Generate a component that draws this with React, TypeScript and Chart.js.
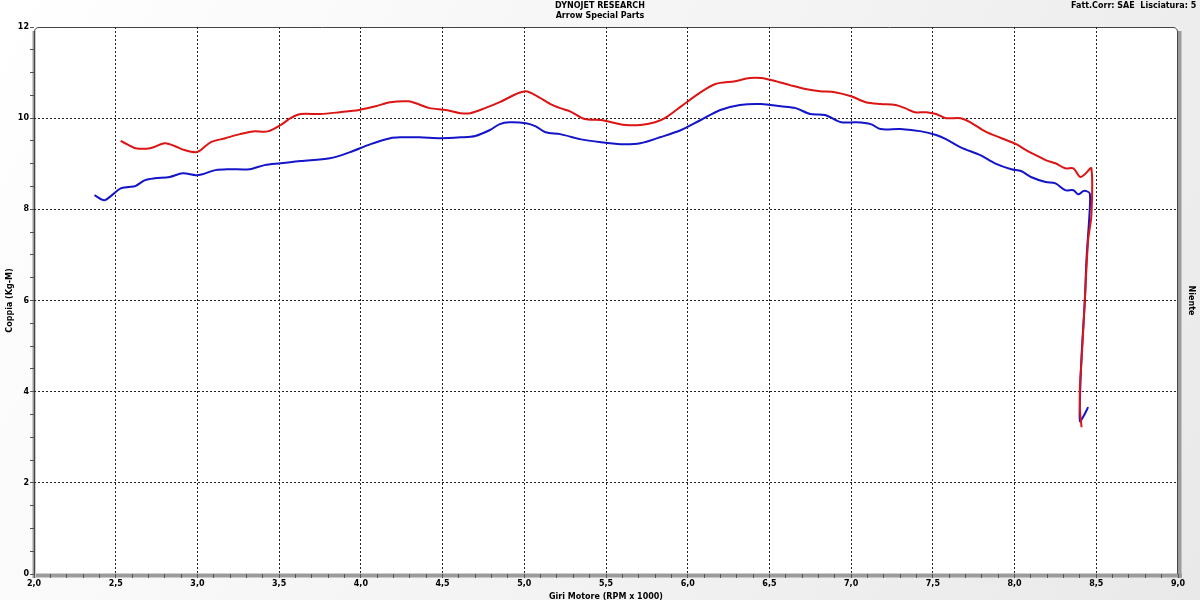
import React, { useEffect, useRef } from "react";
import { Chart, registerables } from "chart.js";

Chart.register(...registerables);

const titleLine1 = "DYNOJET RESEARCH";
const titleLine2 = "Arrow Special Parts";
const cornerText = "Fatt.Corr: SAE  Lisciatura: 5";
const xTitle = "Giri Motore (RPM x 1000)";
const yTitle = "Coppia (Kg-M)";
const y2Title = "Niente";

const xMin = 2;
const xMax = 9;
const yMin = 0;
const yMax = 12;

const blueRpm = [
  2.37, 2.43, 2.47, 2.53, 2.58, 2.62, 2.68, 2.74, 2.83, 2.91,
  2.99, 3.03, 3.11, 3.19, 3.32, 3.41, 3.51, 3.63, 3.81, 3.93,
  4.06, 4.18, 4.24, 4.36, 4.49, 4.61, 4.70, 4.79, 4.85, 4.91,
  5.01, 5.07, 5.13, 5.22, 5.34, 5.47, 5.59, 5.71, 5.83, 5.96,
  6.08, 6.20, 6.32, 6.45, 6.57, 6.66, 6.75, 6.84, 6.94, 7.03,
  7.12, 7.18, 7.30, 7.43, 7.52, 7.58, 7.67, 7.79, 7.88, 7.98,
  8.04, 8.10, 8.19, 8.25, 8.31, 8.36, 8.39, 8.42, 8.44, 8.46,
  8.46, 8.44, 8.43, 8.41, 8.40, 8.40, 8.42, 8.45,
];
const blueTorque = [
  8.31, 8.20, 8.29, 8.46, 8.49, 8.51, 8.64, 8.68, 8.71, 8.79,
  8.75, 8.77, 8.86, 8.88, 8.88, 8.97, 9.01, 9.06, 9.12, 9.25,
  9.43, 9.56, 9.58, 9.58, 9.56, 9.58, 9.61, 9.74, 9.87, 9.91,
  9.89, 9.82, 9.69, 9.65, 9.54, 9.47, 9.43, 9.45, 9.58, 9.74,
  9.96, 10.18, 10.29, 10.31, 10.26, 10.22, 10.09, 10.07, 9.91, 9.91,
  9.87, 9.76, 9.76, 9.71, 9.63, 9.54, 9.36, 9.19, 9.01, 8.88,
  8.84, 8.71, 8.60, 8.57, 8.42, 8.42, 8.33, 8.40, 8.40, 8.35,
  8.00, 6.90, 6.00, 4.80, 3.80, 3.35, 3.45, 3.66,
];

const redRpm = [
  2.53, 2.58, 2.62, 2.71, 2.80, 2.86, 2.92, 2.99, 3.02, 3.08,
  3.17, 3.26, 3.34, 3.43, 3.51, 3.57, 3.63, 3.75, 3.87, 3.99,
  4.09, 4.18, 4.29, 4.35, 4.42, 4.52, 4.61, 4.67, 4.76, 4.85,
  4.95, 5.01, 5.07, 5.16, 5.22, 5.28, 5.37, 5.47, 5.56, 5.62,
  5.71, 5.80, 5.86, 5.96, 6.08, 6.17, 6.29, 6.38, 6.45, 6.54,
  6.63, 6.72, 6.81, 6.90, 7.00, 7.09, 7.18, 7.27, 7.33, 7.39,
  7.46, 7.52, 7.58, 7.67, 7.73, 7.82, 7.92, 8.01, 8.07, 8.13,
  8.19, 8.25, 8.31, 8.36, 8.40, 8.43, 8.47, 8.47, 8.45, 8.43,
  8.41, 8.40, 8.40, 8.41,
];
const redTorque = [
  9.50, 9.41, 9.34, 9.34, 9.45, 9.39, 9.30, 9.25, 9.30, 9.47,
  9.56, 9.65, 9.71, 9.71, 9.85, 10.00, 10.09, 10.09, 10.13, 10.18,
  10.26, 10.35, 10.37, 10.31, 10.22, 10.18, 10.11, 10.11, 10.22, 10.35,
  10.53, 10.59, 10.50, 10.31, 10.22, 10.15, 9.98, 9.96, 9.89, 9.85,
  9.85, 9.91, 10.00, 10.26, 10.57, 10.75, 10.81, 10.88, 10.88, 10.81,
  10.72, 10.64, 10.59, 10.57, 10.48, 10.35, 10.31, 10.29, 10.22, 10.13,
  10.13, 10.09, 10.00, 10.00, 9.91, 9.71, 9.56, 9.43, 9.30, 9.19,
  9.08, 9.01, 8.90, 8.90, 8.71, 8.77, 8.90, 7.87, 7.32, 6.01,
  4.69, 4.14, 3.60, 3.22,
];

const FONT = "'DejaVu Sans', Verdana, sans-serif";

const isMultiple = (v: number, step: number) =>
  Math.abs(v / step - Math.round(v / step)) < 1e-6;

const framePlugin = {
  id: "frame",
  beforeDraw(chart: any) {
    const { ctx, chartArea, width, height } = chart;
    const { left, right, top, bottom } = chartArea;
    ctx.save();
    const g = ctx.createLinearGradient(0, 0, width, height);
    g.addColorStop(0, "#ffffff");
    g.addColorStop(1, "#e9e9e9");
    ctx.fillStyle = g;
    ctx.fillRect(0, 0, width, height);
    ctx.fillStyle = "#ffffff";
    ctx.fillRect(left, top, right - left, bottom - top);

    // grey bands (left, bottom, right)
    ctx.fillStyle = "#9c9c9c";
    ctx.fillRect(left - 1.5, top + 4, 3, bottom - top);
    ctx.fillRect(left + 2, bottom - 0.5, right - left + 2, 4);
    ctx.fillRect(right - 0.5, top + 4, 4, bottom - top);

    // outline
    ctx.strokeStyle = "#444";
    ctx.lineWidth = 1;
    const r = 5;
    ctx.beginPath();
    ctx.moveTo(left + 0.5, bottom);
    ctx.lineTo(left + 0.5, top + r);
    ctx.quadraticCurveTo(left + 0.5, top + 0.5, left + r, top + 0.5);
    ctx.lineTo(right - r, top + 0.5);
    ctx.quadraticCurveTo(right - 0.5, top + 0.5, right - 0.5, top + r);
    ctx.lineTo(right - 0.5, bottom);
    ctx.stroke();

    // header texts
    ctx.fillStyle = "#000";
    ctx.font = `bold 8px ${FONT}`;
    ctx.textBaseline = "alphabetic";
    ctx.textAlign = "center";
    ctx.fillText(titleLine1, 600, 8);
    ctx.fillText(titleLine2, 600, 18);
    ctx.textAlign = "left";
    ctx.fillText(cornerText, 1071, 8);
    ctx.restore();
  },
};

export default function App() {
  const ref = useRef<HTMLCanvasElement | null>(null);

  useEffect(() => {
    if (!ref.current) return;
    const blueData = blueRpm.map((x, i) => ({ x, y: blueTorque[i] }));
    const redData = redRpm.map((x, i) => ({ x, y: redTorque[i] }));
    const chart = new Chart(ref.current, {
      type: "line",
      data: {
        datasets: [
          {
            label: "Rosso",
            data: redData,
            borderColor: "#dc1414",
            borderWidth: 2,
            pointRadius: 0,
            tension: 0.3,
            fill: false,
          },
          {
            label: "Blu",
            data: blueData,
            borderColor: "#1414c8",
            borderWidth: 2,
            pointRadius: 0,
            tension: 0.3,
            fill: false,
          },
        ],
      },
      options: {
        animation: false,
        responsive: false,
        maintainAspectRatio: false,
        parsing: false as any,
        layout: { padding: { top: 27, left: 0, right: 0, bottom: 0 } },
        plugins: {
          legend: { display: false },
          tooltip: { enabled: false },
          title: { display: false },
        },
        scales: {
          x: {
            type: "linear",
            min: xMin,
            max: xMax,
            afterFit: (s: any) => {
              s.height = 26;
            },
            border: { display: false, dash: [2, 2] },
            grid: {
              color: (c: any) =>
                c.tick && isMultiple(c.tick.value, 0.5) && c.tick.value > xMin && c.tick.value < xMax
                  ? "#222"
                  : "rgba(0,0,0,0)",
              tickColor: "#555",
              tickLength: 4,
              lineWidth: 1,
            },
            ticks: {
              stepSize: 0.1,
              autoSkip: false,
              maxRotation: 0,
              minRotation: 0,
              maxTicksLimit: 1000,
              padding: 1,
              color: "#000",
              font: { family: FONT, size: 8, weight: "bold" },
              callback: (v: any) =>
                isMultiple(Number(v), 0.5) ? Number(v).toFixed(1).replace(".", ",") : "",
            },
            title: {
              display: true,
              text: xTitle,
              color: "#000",
              font: { family: FONT, size: 8, weight: "bold", lineHeight: 0.75 },
              padding: 0,
            },
          },
          y: {
            type: "linear",
            position: "left",
            min: yMin,
            max: yMax,
            afterFit: (s: any) => {
              s.width = 34;
            },
            border: { display: false, dash: [2, 2] },
            grid: {
              color: (c: any) =>
                c.tick && isMultiple(c.tick.value, 2) && c.tick.value > yMin && c.tick.value < yMax
                  ? "#222"
                  : "rgba(0,0,0,0)",
              tickColor: "#555",
              tickLength: 4,
              lineWidth: 1,
            },
            ticks: {
              stepSize: 0.5,
              autoSkip: false,
              maxTicksLimit: 1000,
              padding: 1,
              color: "#000",
              font: { family: FONT, size: 8, weight: "bold" },
              callback: (v: any) => (isMultiple(Number(v), 2) ? String(Number(v)) : ""),
            },
            title: {
              display: true,
              text: yTitle,
              color: "#000",
              font: { family: FONT, size: 8, weight: "bold" },
              padding: { top: 5, bottom: 0 },
            },
          },
          y2: {
            type: "linear",
            position: "right",
            min: yMin,
            max: yMax,
            afterFit: (s: any) => {
              s.width = 22;
            },
            border: { display: false },
            grid: { display: false, drawOnChartArea: false },
            ticks: { display: false },
            title: {
              display: true,
              text: y2Title,
              color: "#000",
              font: { family: FONT, size: 8, weight: "bold" },
              padding: { top: 4, bottom: 0 },
            },
          },
        },
      } as any,
      plugins: [framePlugin],
    });
    return () => chart.destroy();
  }, []);

  return (
    <div style={{ position: "fixed", left: 0, top: 0, width: 1200, height: 600 }}>
      <canvas ref={ref} width={1200} height={600} style={{ width: 1200, height: 600 }} />
    </div>
  );
}
